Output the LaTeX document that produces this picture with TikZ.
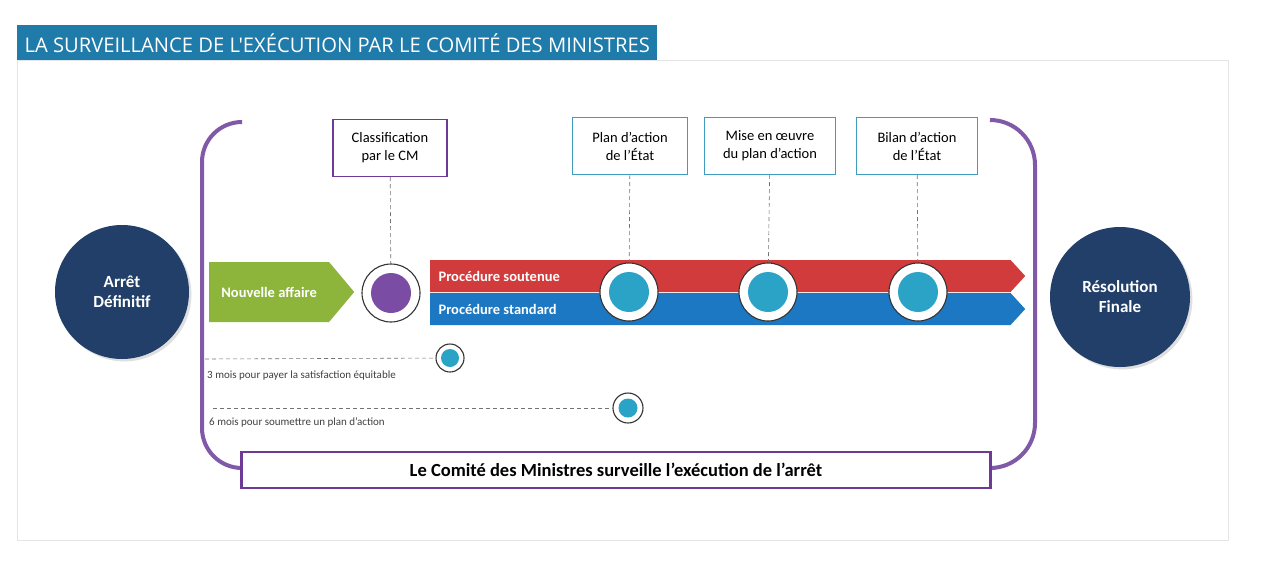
\documentclass[tikz,border=0pt]{standalone}
\usepackage{fontspec}
\setmainfont{Carlito}
\newfontfamily\titlefont{Open Sans}
\usepackage{tikz}
\usetikzlibrary{positioning,shapes.symbols,shadows}
\definecolor{titleblue}{HTML}{1E7BAA}
\definecolor{navy}{HTML}{213F68}
\definecolor{framepurple}{HTML}{8059A8}
\definecolor{boxpurple}{HTML}{6E3A96}
\definecolor{dotpurple}{HTML}{7B4CA3}
\definecolor{boxcyan}{HTML}{3E9DBE}
\definecolor{dotcyan}{HTML}{2BA3C6}
\definecolor{leafgreen}{HTML}{8DB53C}
\definecolor{bandred}{HTML}{D23B3B}
\definecolor{bandblue}{HTML}{1C78C2}

\begin{document}
\begin{tikzpicture}[x=1pt, y=-1pt,
  endpt/.style={circle, fill=navy, minimum size=134pt, align=center, text=white,
    font=\fontsize{17}{20}\selectfont\bfseries, drop shadow={opacity=0.25}},
  milestone/.style={draw, line width=1.3pt, fill=white, minimum height=57pt, align=center,
    font=\fontsize{14.5}{18}\selectfont},
  ring/.style={circle, draw=black!80, line width=1.1pt, fill=white, minimum size=58pt, inner sep=0pt},
  dot/.style={circle, fill=dotcyan, minimum size=40pt, inner sep=0pt},
  band/.style={signal, signal to=east, signal pointer angle=95, minimum width=595pt,
    minimum height=32pt, inner sep=0pt, anchor=west},
  bandtext/.style={text=white, font=\fontsize{14.5}{16}\selectfont\bfseries},
  guide/.style={draw=black!55, dashed, dash pattern=on 4pt off 3pt, line width=0.6pt},
  note/.style={font=\fontsize{11}{13}\selectfont, text=black!75, anchor=west, inner sep=0pt}
]
\useasboundingbox (0,0) rectangle (1280,563);
\fill[white] (0,0) rectangle (1280,563);

% panel and title bar
\draw[black!10] (17,60) rectangle (1228,540);
\node[fill=titleblue, anchor=north west, minimum width=640pt, minimum height=35pt,
  inner xsep=0pt, text=white, font=\titlefont\fontsize{20.2}{22}\selectfont] (title) at (17,25)
  {LA SURVEILLANCE DE L'EXÉCUTION PAR LE COMITÉ DES MINISTRES};

% purple brackets round the supervised phase
\draw[framepurple, line width=4pt, rounded corners=40pt] (240,122) -- (202,122) -- (202,468) -- (242,468);
\draw[framepurple, line width=4pt, rounded corners=45pt] (990,120) -- (1035,120) -- (1035,468) -- (991,468);

\node[endpt] (arret) at (122,292) {Arrêt\\Définitif};
\node[endpt, minimum size=140pt] (resol) at (1120,297) {Résolution\\Finale};

\node[signal, signal to=east, signal pointer angle=100, fill=leafgreen, minimum width=145pt,
  minimum height=60pt, anchor=west, text=white, font=\fontsize{14.5}{16}\selectfont\bfseries] (nouvelle) at (209,292)
  {Nouvelle affaire};

\node[ring] (cm) at (391,293) {};
\node[circle, fill=dotpurple, minimum size=40pt] at (cm) {};

\node[band, fill=bandred] (soutenue) at (430,276) {};
\node[band, fill=bandblue] (standard) at (430,309) {};
\node[bandtext, right=5pt of soutenue.west] {Procédure soutenue};
\node[bandtext, right=5pt of standard.west] {Procédure standard};

\foreach \x/\name in {629/plan, 768/mise, 918/bilan} {
  \node[ring] (\name dot) at (\x,292) {};
  \node[dot] at (\name dot) {};
}

\node[milestone, draw=boxpurple, minimum width=114pt] (classif) at (390,148) {Classification\\par le CM};
\node[milestone, draw=boxcyan, minimum width=115pt] (plan) at (630,146) {Plan d’action\\de l’État};
\node[milestone, draw=boxcyan, minimum width=131pt] (mise) at (770,146) {Mise en œuvre\\du plan d’action};
\node[milestone, draw=boxcyan, minimum width=121pt] (bilan) at (917,146) {Bilan d’action\\de l’État};

\draw[guide] (classif) -- (cm);
\draw[guide] (plan) -- (plandot);
\draw[guide] (mise) -- (misedot);
\draw[guide] (bilan) -- (bilandot);

% deadlines
\node[ring, minimum size=28pt] (pay) at (450,358) {};
\node[dot, minimum size=18pt] at (pay) {};
\node[ring, minimum size=30pt] (submit) at (628,408) {};
\node[dot, minimum size=19pt] at (submit) {};
\coordinate (payfrom) at (205,359);
\coordinate (submitfrom) at (213,408);
\draw[guide] (payfrom) -- (pay);
\draw[guide] (submitfrom) -- (submit);
\node[note] at (207,376) {3 mois pour payer la satisfaction équitable};
\node[note] at (209,423) {6 mois pour soumettre un plan d’action};

\node[draw=boxpurple, line width=2.5pt, fill=white, minimum width=749pt, minimum height=36pt,
  font=\fontsize{18.5}{20}\selectfont\bfseries] (watch) at (616,470)
  {Le Comité des Ministres surveille l’exécution de l’arrêt};
\end{tikzpicture}
\end{document}
